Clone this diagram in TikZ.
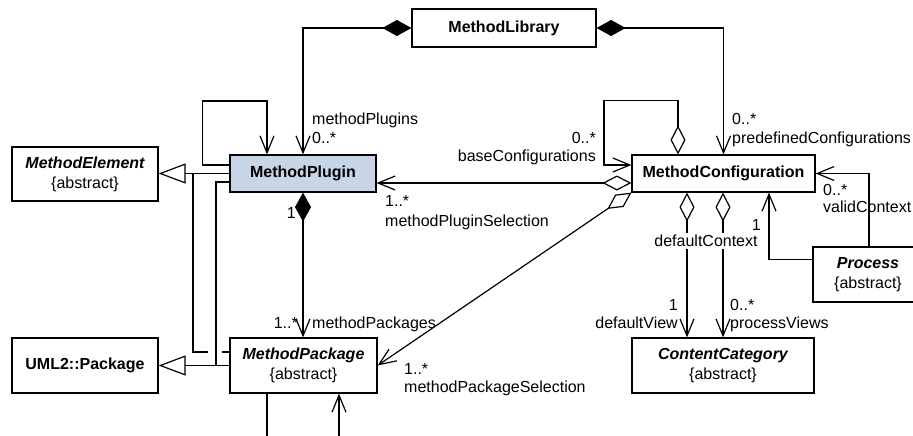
\documentclass[tikz,border=0pt]{standalone}
\usepackage{fontspec}
\setmainfont{Liberation Sans}
\usetikzlibrary{arrows.meta}
\definecolor{plugfill}{HTML}{C8D5E6}
\begin{document}
\begin{tikzpicture}[x=1pt,y=-1pt,
  every node/.style={font=\fontsize{16}{20}\selectfont},
  cls/.style={draw, line width=1.2pt, fill=white, inner sep=0pt, align=center},
  bf/.style={font=\fontsize{16}{20}\selectfont\bfseries},
  lbl/.style={inner sep=0pt},
  ln/.style={line width=1.2pt},
  nav/.style={ln, -{Straight Barb[length=17pt,width=14pt]}},
  comp/.style={ln, {Diamond[length=29pt,width=16pt]}-{Straight Barb[length=17pt,width=14pt]}},
  aggr/.style={ln, {Diamond[open,length=29pt,width=15pt]}-{Straight Barb[length=17pt,width=14pt]}},
  gen/.style={ln, -{Triangle[open,length=27pt,width=20pt]}}
]
\useasboundingbox (0,0) rectangle (913,436);
\clip (0,0) rectangle (913,436);

% classes
\node[cls, bf, minimum width=184pt, minimum height=38pt] (lib) at (504,28) {MethodLibrary};
\node[cls, bf, fill=plugfill, minimum width=146pt, minimum height=37pt] (mp) at (303,173.5) {MethodPlugin};
\node[cls, bf, minimum width=183pt, minimum height=37pt] (mc) at (723.5,173.5) {MethodConfiguration};
\node[cls, minimum width=146pt, minimum height=54pt] (me) at (85,174) {{\bfseries\itshape MethodElement}\\\{abstract\}};
\node[cls, bf, minimum width=146pt, minimum height=55pt] (uml) at (85,365.5) {UML2::Package};
\node[cls, minimum width=147pt, minimum height=55pt] (mpk) at (303.5,365.5) {{\bfseries\itshape MethodPackage}\\\{abstract\}};
\node[cls, minimum width=182pt, minimum height=55pt] (cc) at (723,365.5) {{\bfseries\itshape ContentCategory}\\\{abstract\}};
\node[cls, minimum width=110pt, minimum height=55pt] (pr) at (868,274.5) {{\bfseries\itshape Process}\\\{abstract\}};

% MethodLibrary compositions
\draw[comp] (lib.west) -| (mp.north);
\draw[comp] (lib.east) -| (mc.north);

% self loops
\draw[nav] ([yshift=8.5pt]mp.west) -- ++(-27,0) -- ++(0,-64) -| ([xshift=-36pt]mp.north);
\draw[aggr] ([xshift=-45.5pt]mc.north) -- ++(0,-54) -- ++(-74,0) |- ([yshift=8.5pt]mc.west);

% configuration selections
\draw[aggr] ([yshift=-9.5pt]mc.west) -- ([yshift=-9.5pt]mp.east);
\draw[aggr] (mc.south west) -- (mpk.east);

% plugin -> packages
\draw[comp] (mp.south) -- (mp.south |- mpk.north);

% generalizations
\coordinate (ja) at (193,173.5);
\coordinate (jb) at (216,365.5);
\draw[gen] (mp.west) -- (mp.west -| me.east);
\draw[ln] ([yshift=-8.5pt]mp.west) -| (jb);
\draw[gen] (mpk.west) -- (mpk.west -| uml.east);
\draw[ln] ([yshift=13.5pt]mpk.west) -- ++(-7,0);
\draw[ln] ([yshift=13.5pt,xshift=-21pt]mpk.west) -| (ja);

% package self association (cut off)
\coordinate (b1) at (267,445);
\coordinate (b2) at (339,445);
\draw[ln] ([xshift=-36.5pt]mpk.south) -- (b1);
\draw[nav] (b2) -- (b2 |- mpk.south);

% configuration -> content category
\draw[aggr] ([xshift=-36.5pt]mc.south) -- ([xshift=-36.5pt]mc.south |- cc.north);
\draw[aggr] ([xshift=-0.5pt]mc.south) -- ([xshift=-0.5pt]mc.south |- cc.north);
\node[lbl, fill=white, inner sep=2pt] (dc) at (706,241) {defaultContext};

% process
\draw[nav] ([yshift=15pt]pr.west) -| ([xshift=45.5pt]mc.south);
\draw[nav] ([xshift=1pt]pr.north) |- (mc.east);

% labels
\node[lbl, anchor=base west] (l1) at (312,124) {methodPlugins};
\node[lbl, anchor=base west] (l2) at (312,143) {0..*};
\node[lbl, anchor=base west] (l3) at (732,124) {0..*};
\node[lbl, anchor=base west] (l4) at (732,143) {predefinedConfigurations};
\node[lbl, anchor=base east] (l5) at (596,143) {0..*};
\node[lbl, anchor=base east] (l6) at (596,161) {baseConfigurations};
\node[lbl, anchor=base west] (l7) at (385,206) {1..*};
\node[lbl, anchor=base west] (l8) at (385,226) {methodPluginSelection};
\node[lbl, anchor=base east] (l9) at (296,218) {1};
\node[lbl, anchor=base east] (l10) at (298,328) {1..*};
\node[lbl, anchor=base west] (l11) at (312,328) {methodPackages};
\node[lbl, anchor=base west] (l12) at (404,374) {1..*};
\node[lbl, anchor=base west] (l13) at (404,392) {methodPackageSelection};
\node[lbl, anchor=base east] (l14) at (678,310) {1};
\node[lbl, anchor=base east] (l15) at (678,328) {defaultView};
\node[lbl, anchor=base west] (l16) at (730,310) {0..*};
\node[lbl, anchor=base west] (l17) at (730,328) {processViews};
\node[lbl, anchor=base east] (l18) at (761,230) {1};
\node[lbl, anchor=base west] (l19) at (823,195) {0..*};
\node[lbl, anchor=base west] (l20) at (823,212) {validContext};
\end{tikzpicture}
\end{document}
